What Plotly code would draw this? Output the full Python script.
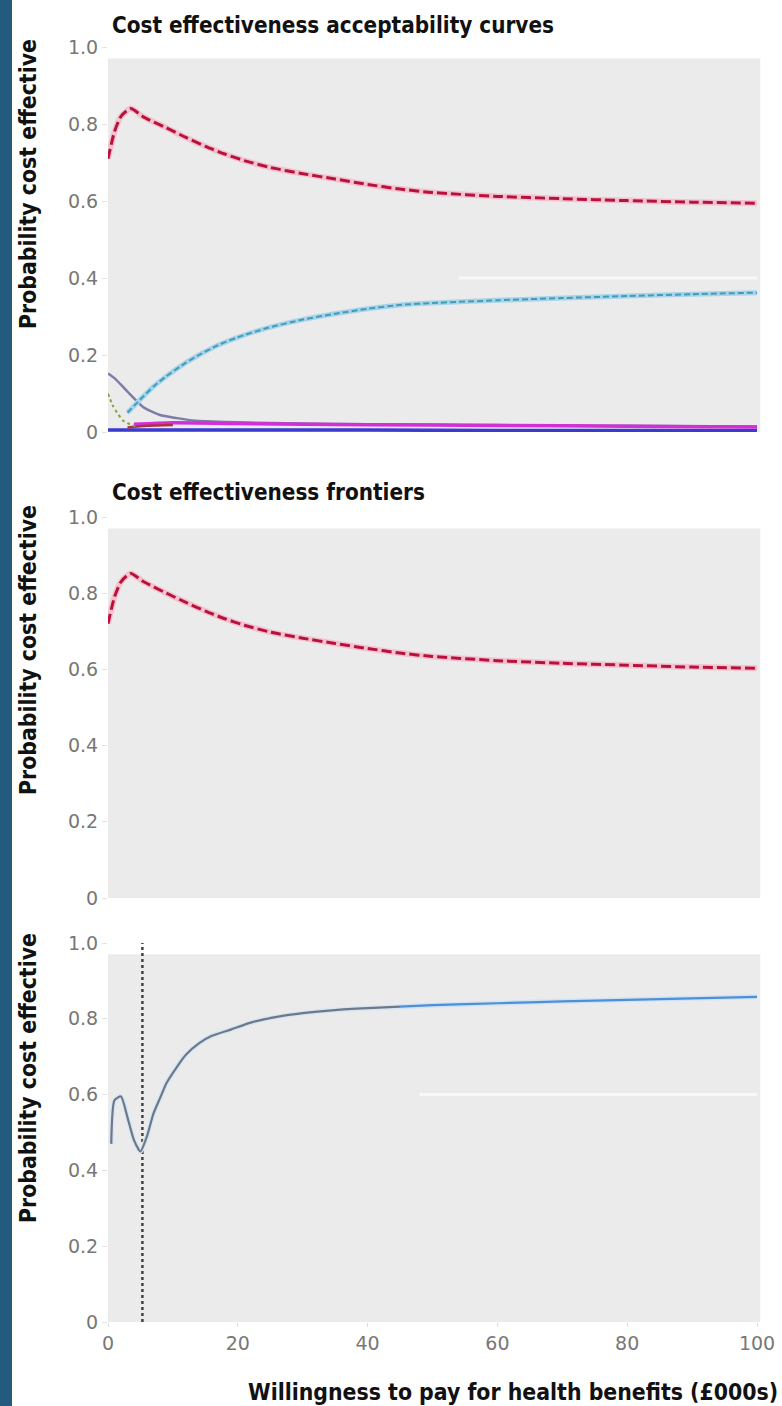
import plotly.graph_objects as go

# ---- data -------------------------------------------------------------
# Panel 1: cost effectiveness acceptability curves
wtp_red = [0, 1, 2, 3.5, 5.5, 9, 12, 15, 18, 21, 25, 30, 35, 40, 45, 50, 60, 70, 80, 90, 100]
prob_red = [0.71, 0.78, 0.82, 0.84, 0.818, 0.79, 0.765, 0.742, 0.722, 0.705, 0.687,
            0.671, 0.657, 0.643, 0.631, 0.622, 0.612, 0.606, 0.601, 0.597, 0.594]

wtp_cyan = [3, 5, 7, 9, 12, 14, 17, 20, 24.5, 30, 35, 40, 45, 50, 60, 70, 80, 90, 100]
prob_cyan = [0.05, 0.085, 0.118, 0.145, 0.18, 0.2, 0.226, 0.246, 0.27, 0.292, 0.307,
             0.32, 0.33, 0.335, 0.342, 0.348, 0.353, 0.358, 0.362]

wtp_purple = [0, 1, 3, 5.4, 8, 10.6, 13, 16, 20, 30, 40, 50, 60, 70, 80, 90, 100]
prob_purple = [0.152, 0.14, 0.105, 0.065, 0.044, 0.036, 0.03, 0.027, 0.025, 0.022,
               0.02, 0.019, 0.018, 0.017, 0.016, 0.015, 0.014]

wtp_green = [0, 0.7, 1.4, 2.3, 3.4, 4.5]
prob_green = [0.10, 0.07, 0.05, 0.03, 0.02, 0.012]

wtp_darkred = [3, 6, 10]
prob_darkred = [0.012, 0.016, 0.018]

wtp_magenta = [4, 10, 20, 40, 60, 80, 100]
prob_magenta = [0.02, 0.024, 0.022, 0.019, 0.017, 0.015, 0.013]

wtp_blue = [0, 20, 40, 60, 80, 100]
prob_blue = [0.005, 0.005, 0.005, 0.004, 0.004, 0.004]

# Panel 2: cost effectiveness frontier
wtp_frontier = [0, 1, 2, 3.5, 5.5, 9, 12, 15, 18, 21, 25, 30, 35, 40, 45, 50, 60, 70,
                80, 90, 100]
prob_frontier = [0.72, 0.79, 0.83, 0.852, 0.83, 0.8, 0.776, 0.753, 0.733, 0.716, 0.698,
                 0.682, 0.668, 0.655, 0.643, 0.634, 0.623, 0.616, 0.611, 0.606, 0.603]

# Panel 3: probability that the optimal strategy is cost effective
wtp_opt_a = [0.5, 1, 2, 3, 4, 5, 6, 7, 8, 9, 10.5, 12, 14, 16, 19, 22, 26, 30, 35, 40, 45]
prob_opt_a = [0.47, 0.585, 0.595, 0.54, 0.48, 0.45, 0.49, 0.55, 0.59, 0.63, 0.67,
              0.705, 0.735, 0.755, 0.772, 0.79, 0.805, 0.815, 0.823, 0.828, 0.832]
wtp_opt_b = [45, 50, 60, 70, 80, 90, 100]
prob_opt_b = [0.832, 0.836, 0.841, 0.846, 0.85, 0.854, 0.858]

threshold_wtp = 5.3

y_ticks = [0, 0.2, 0.4, 0.6, 0.8, 1.0]
y_labels = ["0", "0.2", "0.4", "0.6", "0.8", "1.0"]
x_ticks = [0, 20, 40, 60, 80, 100]
x_labels = ["0", "20", "40", "60", "80", "100"]

# ---- figure -----------------------------------------------------------
W, H = 782, 1406
TICK_FONT = dict(family="DejaVu Sans", size=19, color="#777777")
BOLD = "DejaVu Sans Condensed, DejaVu Sans, sans-serif"

fig = go.Figure()


def line(x, y, color, width, dash="solid", axis=1):
    fig.add_trace(go.Scatter(
        x=x, y=y, mode="lines",
        line=dict(color=color, width=width, dash=dash, shape="spline", smoothing=0.6),
        xaxis="x" if axis == 1 else f"x{axis}",
        yaxis="y" if axis == 1 else f"y{axis}",
        showlegend=False, hoverinfo="skip"))


# panel 1
line(wtp_blue, prob_blue, "#3a3ad0", 3.5)
line(wtp_purple, prob_purple, "#7c7ca8", 2.5)
line(wtp_magenta, prob_magenta, "#d22fd6", 3.5)
line(wtp_darkred, prob_darkred, "#b03040", 2.5)
line(wtp_green, prob_green, "#86a23a", 2, "3px,3px")
line(wtp_cyan, prob_cyan, "#a9d2ec", 5)
line(wtp_cyan, prob_cyan, "#3f9fb0", 2, "6px,3px")
line(wtp_red, prob_red, "#f3c2cf", 6)
line(wtp_red, prob_red, "#b8123c", 3, "10px,4px")

# panel 2
line(wtp_frontier, prob_frontier, "#f3c2cf", 6, axis=2)
line(wtp_frontier, prob_frontier, "#b8123c", 3, "10px,4px", axis=2)

# panel 3
fig.add_trace(go.Scatter(
    x=[threshold_wtp, threshold_wtp], y=[0, 1], mode="lines",
    line=dict(color="#444444", width=2.5, dash="3px,3px"),
    xaxis="x3", yaxis="y3", showlegend=False, hoverinfo="skip"))
line(wtp_opt_a, prob_opt_a, "#d6e6f4", 5, axis=3)
line(wtp_opt_a, prob_opt_a, "#6e7888", 2.2, axis=3)
line(wtp_opt_b, prob_opt_b, "#cfe3f6", 5, axis=3)
line(wtp_opt_b, prob_opt_b, "#4f8fd6", 2.2, axis=3)

x0, x1 = 108 / W, 757 / W
panels = [(47, 432), (517, 898), (943, 1322)]  # pixel rows of y=1 and y=0

layout = dict(
    width=W, height=H,
    margin=dict(l=0, r=0, t=0, b=0, autoexpand=False),
    paper_bgcolor="white", plot_bgcolor="white",
    showlegend=False,
)
shapes = []
for i, (top, bot) in enumerate(panels, start=1):
    sfx = "" if i == 1 else str(i)
    layout[f"xaxis{sfx}"] = dict(
        domain=[x0, x1], range=[0, 100], anchor=f"y{sfx}", automargin=False,
        showgrid=False, zeroline=False, showline=False,
        tickvals=x_ticks, ticktext=x_labels,
        showticklabels=(i == 3), ticks="outside" if i == 3 else "",
        ticklen=4, tickcolor="#dddddd", tickfont=TICK_FONT)
    layout[f"yaxis{sfx}"] = dict(
        domain=[1 - bot / H, 1 - top / H], range=[0, 1], anchor=f"x{sfx}",
        automargin=False,
        showgrid=False, zeroline=False, showline=False,
        tickvals=y_ticks, ticktext=y_labels,
        ticks="outside", ticklen=5, tickcolor="#e2e2e2", tickfont=TICK_FONT)
    # light grey panel background
    shapes.append(dict(type="rect", xref=f"x{sfx} domain", yref=f"y{sfx} domain",
                       x0=0, x1=1.005, y0=0, y1=0.97, layer="below",
                       fillcolor="#ebebeb", line=dict(width=0)))

# faint white grid remnants
shapes.append(dict(type="line", xref="x domain", yref="y", x0=0.54, x1=1.0,
                   y0=0.4, y1=0.4, layer="below", line=dict(color="#f8f8f8", width=3)))
shapes.append(dict(type="line", xref="x3 domain", yref="y3", x0=0.48, x1=1.0,
                   y0=0.6, y1=0.6, layer="below", line=dict(color="#f8f8f8", width=3)))
# dark stripe at the left edge
shapes.append(dict(type="rect", xref="paper", yref="paper", x0=0, x1=12 / W,
                   y0=0, y1=1, fillcolor="#245a7e", line=dict(width=0)))
layout["shapes"] = shapes

annotations = [
    dict(text="<b>Cost effectiveness acceptability curves</b>", x=110 / W, y=1 - 25 / H,
         xanchor="left", yanchor="middle", size=22.3),
    dict(text="<b>Cost effectiveness frontiers</b>", x=110 / W, y=1 - 492 / H,
         xanchor="left", yanchor="middle", size=22.3),
    dict(text="<b>Willingness to pay for health benefits (£000s)</b>", x=780 / W,
         y=1 - 1392 / H, xanchor="right", yanchor="middle", size=22.8),
]
for c in (184, 650, 1078):
    annotations.append(dict(text="<b>Probability cost effective</b>", x=28 / W,
                            y=1 - c / H, xanchor="center", yanchor="middle",
                            textangle=-90, size=22.8))
for a in annotations:
    size = a.pop("size")
    a.update(xref="paper", yref="paper", showarrow=False,
             font=dict(family=BOLD, size=size, color="#111111"))
layout["annotations"] = annotations

fig.update_layout(**layout)
fig.write_html("out.html")
